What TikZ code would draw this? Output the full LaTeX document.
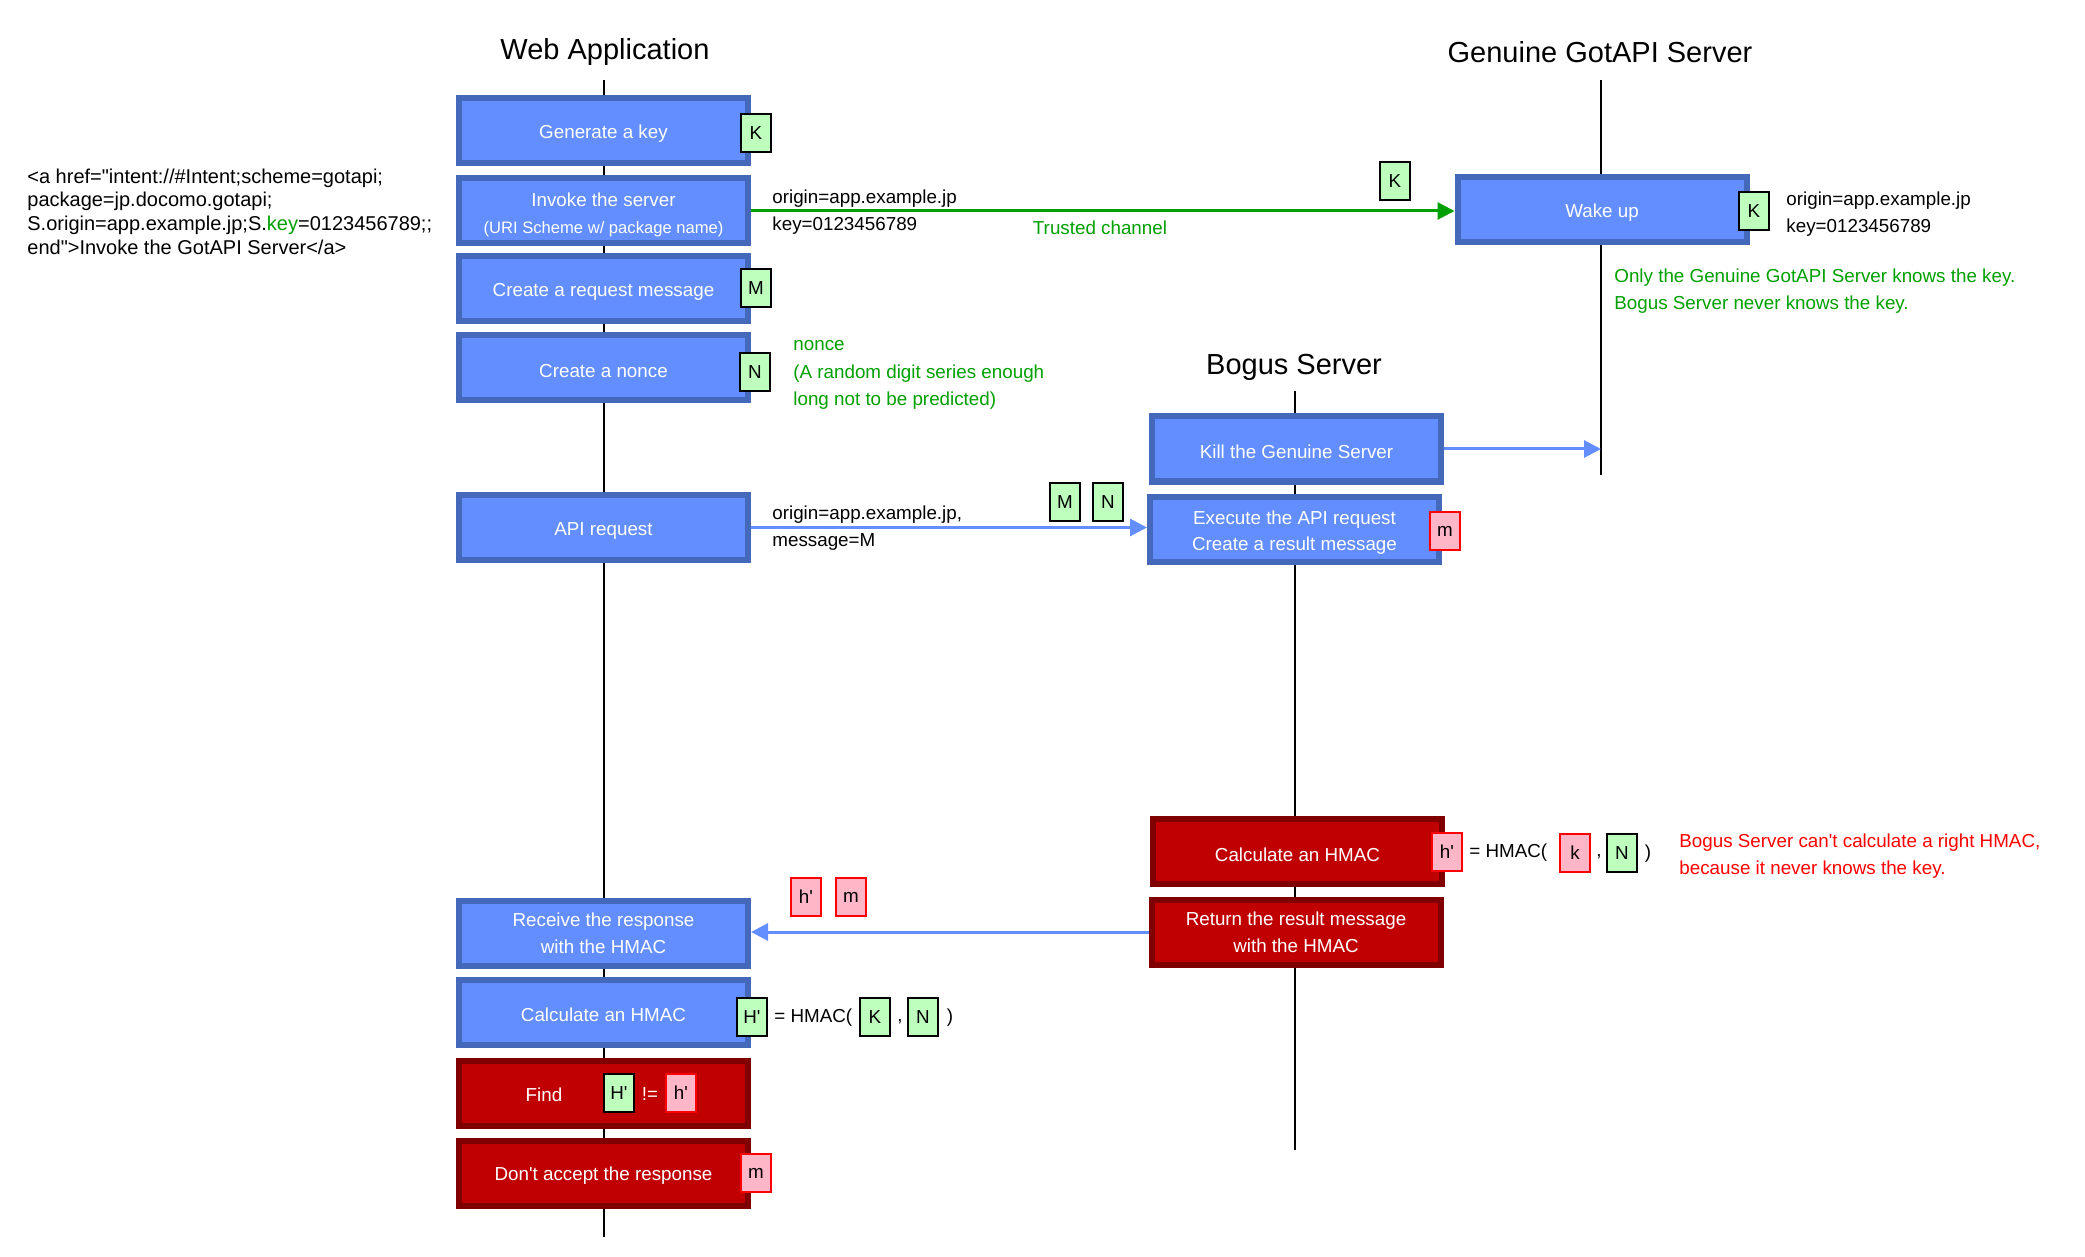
\documentclass[tikz,border=0pt]{standalone}
\usepackage{fontspec}
\setmainfont{Liberation Sans}[Ligatures=TeXOff]
\usetikzlibrary{arrows.meta}

\definecolor{boxblue}{RGB}{98,142,255}
\definecolor{boxblueedge}{RGB}{68,104,186}
\definecolor{boxred}{RGB}{192,0,0}
\definecolor{boxrededge}{RGB}{128,0,0}
\definecolor{tagpink}{RGB}{255,182,198}
\definecolor{taggreen}{RGB}{190,255,190}
\definecolor{okgreen}{RGB}{0,160,0}
\definecolor{alertred}{RGB}{255,0,0}

\tikzset{
  stepblue/.style={draw=boxblueedge, fill=boxblue, line width=3pt,
    minimum width=144.5pt, minimum height=32.5pt, inner sep=0pt,
    text=white, font=\fontsize{9.4}{13.4}\selectfont, align=center,
    execute at begin node={\rule{0pt}{9.6pt}}},
  stepred/.style={stepblue, draw=boxrededge, fill=boxred},
  plainlines/.style={execute at begin node={}},
  tagok/.style={draw=black, fill=taggreen, line width=0.8pt,
    minimum width=15.2pt, minimum height=19.2pt, inner sep=0pt,
    font=\fontsize{9.4}{11}\selectfont},
  tagbad/.style={tagok, draw=alertred, fill=tagpink},
  note/.style={font=\fontsize{9.4}{13.4}\selectfont, align=left,
    anchor=west, inner sep=0pt},
  lanehead/.style={font=\fontsize{14.5}{17}\selectfont, inner sep=0pt},
  lifeline/.style={line width=1.4pt, black},
  msg/.style={line width=1.5pt, -{Triangle[length=8.5pt,width=8.5pt]}},
}

\begin{document}
\begin{tikzpicture}[x=0.5pt,y=-0.5pt]
\useasboundingbox (0,0) rectangle (2085,1257);

% lifelines
\coordinate (webtop) at (604,80);   \coordinate (webend) at (604,1237);
\coordinate (gentop) at (1601,80);  \coordinate (genend) at (1601,475);
\coordinate (bogtop) at (1295,391); \coordinate (bogend) at (1295,1150);
\draw[lifeline] (webtop) -- (webend);
\draw[lifeline] (gentop) -- (genend);
\draw[lifeline] (bogtop) -- (bogend);

% lane titles
\node[lanehead] (hweb) at (605,52) {Web Application};
\node[lanehead] (hgen) at (1600,52) {Genuine GotAPI Server};
\node[lanehead] (hbog) at (1294,367) {Bogus Server};

% web application steps
\node[stepblue] (genkey)  at (603.5,130.5) {Generate a key};
\node[stepblue, plainlines] (invoke) at (603.5,211) {\rule{0pt}{11pt}Invoke the server\\{\fontsize{8.3}{10}\selectfont(URI Scheme w/ package name)}};
\node[stepblue] (reqmsg)  at (603.5,289) {Create a request message};
\node[stepblue] (nonce)   at (603.5,368) {Create a nonce};
\node[stepblue] (apireq)  at (603.5,527.5) {API request};
\node[stepblue, plainlines] (recv) at (603.5,933) {Receive the response\\with the HMAC};
\node[stepblue] (webhmac) at (603.5,1012) {Calculate an HMAC};
\node[stepred]  (find)    at (603.5,1093.5) {};
\node[stepred]  (reject)  at (603.5,1173) {Don't accept the response};

% genuine server
\node[stepblue] (wake) at (1602,209.5) {Wake up};

% bogus server
\node[stepblue] (kill)    at (1296.5,449) {Kill the Genuine Server};
\node[stepblue, plainlines] (exec) at (1294.5,529) {\rule{0pt}{10.5pt}Execute the API request\\Create a result message};
\node[stepred]  (boghmac) at (1297.5,851.5) {Calculate an HMAC};
\node[stepred, plainlines] (ret) at (1296,932) {Return the result message\\with the HMAC};

% data tags
\node[tagok]  (tK1) at (756,133) {K};
\node[tagok]  (tM1) at (756,288) {M};
\node[tagok]  (tN1) at (755,372) {N};
\node[tagok]  (tKt) at (1395,181) {K};
\node[tagok]  (tKw) at (1754,211) {K};
\node[tagok]  (tMa) at (1065,502) {M};
\node[tagok]  (tNa) at (1108,502) {N};
\node[tagbad] (tm1) at (1445,531) {m};
\node[tagbad] (thr) at (806,897) {h'};
\node[tagbad] (tmr) at (851,897) {m};
\node[tagbad] (tm2) at (756,1173) {m};

% bogus HMAC formula
\node[tagbad] (bh)  at (1447,852) {h'};
\node[note]   (bhf) at (1469,853) {= HMAC(};
\node[tagbad] (bk)  at (1575,853) {k};
\node[note, anchor=center] (bc) at (1599,857) {,};
\node[tagok]  (bN)  at (1622,853) {N};
\node[note, anchor=center] (bp) at (1648,854) {)};

% web HMAC formula
\node[tagok]  (wH)  at (752,1017) {H'};
\node[note]   (whf) at (774,1018) {= HMAC(};
\node[tagok]  (wK)  at (875,1017) {K};
\node[note, anchor=center] (wc) at (900,1022) {,};
\node[tagok]  (wN)  at (923,1017) {N};
\node[note, anchor=center] (wp) at (950,1018) {)};

% comparison inside the "Find" step
\node[note, anchor=center, text=white] (findtxt) at (544,1095) {Find};
\node[tagok]  (fH) at (619,1093) {H'};
\node[note, anchor=center, text=white] (fne) at (650,1094) {!=};
\node[tagbad] (fh) at (681,1093) {h'};

% annotations
\node[note, font=\fontsize{10}{11.85}\selectfont] (html) at (27,211.5)
  {<a href="intent://\#Intent;scheme=gotapi;\\package=jp.docomo.gotapi;\\S.origin=app.example.jp;S.\textcolor{okgreen}{key}=0123456789;;\\end">Invoke the GotAPI Server</a>};
\node[note] (invlabel) at (772,212) {origin=app.example.jp\\key=0123456789};
\node[note, anchor=center, text=okgreen] (trust) at (1100,228) {Trusted channel};
\node[note] (wakelabel) at (1786,214.5) {origin=app.example.jp\\key=0123456789};
\node[note, text=okgreen] (onlynote) at (1614,291.5)
  {Only the Genuine GotAPI Server knows the key.\\Bogus Server never knows the key.};
\node[note, text=okgreen, font=\fontsize{9.4}{13.75}\selectfont] (noncenote) at (793,375)
  {nonce\\(A random digit series enough\\long not to be predicted)};
\node[note] (apilabel) at (772,528) {origin=app.example.jp,\\message=M};
\node[note, text=alertred] (bogusnote) at (1679,856.5)
  {Bogus Server can't calculate a right HMAC,\\because it never knows the key.};

% messages
\coordinate (killhit) at (1601,449);
\draw[msg, okgreen] (invoke.east) -- (invoke.east -| wake.west);
\draw[msg, boxblue] (kill.east) -- (killhit);
\draw[msg, boxblue] (apireq.east) -- (apireq.east -| exec.west);
\draw[msg, boxblue] (ret.west) -- (ret.west -| recv.east);
\end{tikzpicture}
\end{document}
